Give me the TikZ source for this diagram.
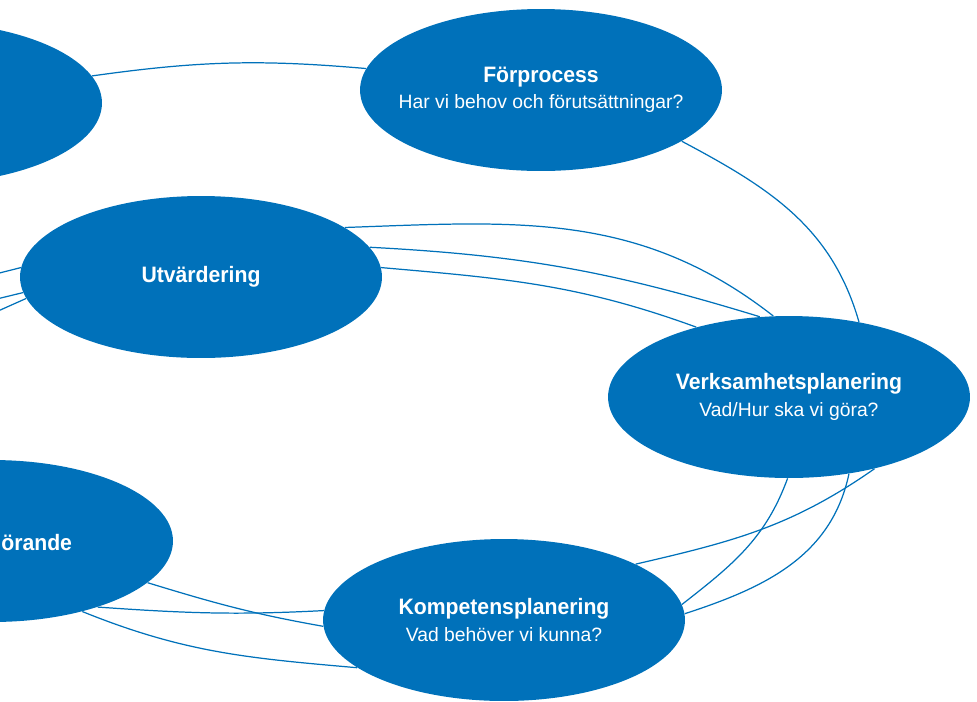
\documentclass[tikz,border=0pt]{standalone}
\usepackage{fontspec}
\setmainfont{Liberation Sans}
\newfontfamily\headfont{Liberation Sans}[FakeStretch=0.95]
\usepackage{tikz}
\usetikzlibrary{arrows,shapes,positioning}
\definecolor{kblue}{RGB}{0,113,186}
\newcommand{\rubrik}[1]{{\headfont\bfseries\fontsize{12.7}{15}\selectfont #1}}

\begin{document}
\begin{tikzpicture}[x=0.02cm,y=0.02cm]
	\tikzstyle{every node}+=[inner sep=0pt]
	\tikzstyle{fas}=[ellipse, fill=kblue, minimum width=7.24cm, minimum height=3.24cm]
	\tikzstyle{fastext}=[text=white, align=center, font=\fontsize{11}{15}\selectfont]
	\tikzstyle{kurva}=[kblue, line width=0.7pt]
	\useasboundingbox (0,0) rectangle (977,-701);
	\clip (0,0) rectangle (977,-701);
	\node [fas] (tl) at (-79,-103) {};
	\node [fas, label={[fastext]center:{\rubrik{Förprocess}\\Har vi behov och förutsättningar?}}] (forp) at (541,-90) {};
	\node [fas, label={[fastext]center:{\rubrik{Utvärdering}}}] (utv) at (201,-277) {};
	\node [fas, label={[fastext]center:{\rubrik{Verksamhetsplanering}\\Vad/Hur ska vi göra?}}] (verk) at (789,-397) {};
	\node [fas] (gen) at (-8,-541) {};
	\node [fastext, anchor=base west] (gentext) at (1,-550) {\rubrik{örande}};
	\node [fas, label={[fastext]center:{\rubrik{Kompetensplanering}\\Vad behöver vi kunna?}}] (komp) at (504,-620) {};
	\coordinate (ut1) at (-40,-283);
	\coordinate (ut2) at (-40,-308);
	\coordinate (ut3) at (-40,-328);
	\draw [kurva] (tl.9) to [out=8,in=175] (forp.173);
	\draw [kurva] (forp.-20) to [out=-28,in=106] (verk.47);
	\draw [kurva] (utv.19) to [out=2,in=142] (verk.101);
	\draw [kurva] (utv.10) to [out=-3,in=163] (verk.110);
	\draw [kurva] (utv.3.5) to [out=-5,in=160] (verk.143);
	\draw [kurva] (utv.177) -- (ut1);
	\draw [kurva] (utv.185) -- (ut2);
	\draw [kurva] (utv.187) -- (ut3);
	\draw [kurva] (gen.-15) to [out=-17,in=170] (komp.182);
	\draw [kurva] (gen.-32.5) to [out=-4,in=183] (komp.177);
	\draw [kurva] (gen.-38) to [out=-22,in=175] (komp.198.6);
	\draw [kurva] (komp.23) to [out=13,in=215] (verk.-40);
	\draw [kurva] (komp.5) to [out=38,in=-110] (verk.-91);
	\draw [kurva] (komp.2) to [out=18,in=-102] (verk.-52.5);
\end{tikzpicture}
\end{document}
